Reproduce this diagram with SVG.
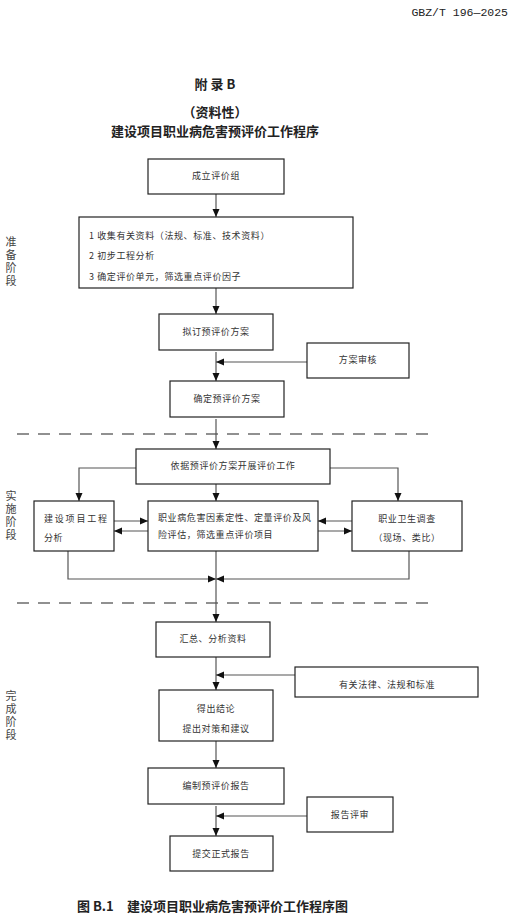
<svg xmlns="http://www.w3.org/2000/svg" width="515" height="917" viewBox="0 0 515 917">
<style>
text{font-family:"Noto Sans CJK SC","Liberation Sans",sans-serif;}
.box{fill:#fff;stroke:#222;stroke-width:1.2;}
.t{font-size:9px;fill:#333;letter-spacing:0.6px;}
.c{text-anchor:middle;}
.side{font-size:11px;fill:#444;writing-mode:vertical-rl;letter-spacing:2px;}
.h{font-size:13px;font-weight:bold;fill:#222;text-anchor:middle;}
.ln{fill:none;stroke:#555;stroke-width:1.2;}
.dash{fill:none;stroke:#222;stroke-width:1.2;stroke-dasharray:12 9;}
</style>
<defs>
<marker id="ah" markerUnits="userSpaceOnUse" markerWidth="8" markerHeight="8" viewBox="0 0 8 8" refX="8" refY="4" orient="auto">
<path d="M0,0.5 L8,4 L0,7.5 Z" fill="#111"/>
</marker>
</defs>
<rect width="515" height="917" fill="#fff"/>
<text x="508" y="16" style="font-family:'Liberation Mono',monospace;font-size:11.5px;fill:#222;text-anchor:end">GBZ/T 196—2025</text>
<text x="215" y="89" class="h">附 录 B</text>
<text x="215" y="117" class="h">（资料性）</text>
<text x="215" y="136" class="h">建设项目职业病危害预评价工作程序</text>

<g id="stage-labels">
<text class="side" x="11" y="236">准备阶段</text>
<text class="side" x="11" y="490">实施阶段</text>
<text class="side" x="11" y="690">完成阶段</text>
</g>
<g id="separators">
<line class="dash" x1="17" y1="434" x2="430" y2="434"/>
<line class="dash" x1="17" y1="603" x2="437" y2="603"/>
</g>

<g id="connectors">
<path class="ln" d="M216,194 V217" marker-end="url(#ah)"/>
<path class="ln" d="M216,288 V314" marker-end="url(#ah)"/>
<path class="ln" d="M216,352 V381" marker-end="url(#ah)"/>
<path class="ln" d="M307,362 H216" marker-end="url(#ah)"/>
<path class="ln" d="M216,419 V449" marker-end="url(#ah)"/>
<path class="ln" d="M136,468 H79 V501" marker-end="url(#ah)"/>
<path class="ln" d="M330,468 H398 V501" marker-end="url(#ah)"/>
<path class="ln" d="M216,484 V501" marker-end="url(#ah)"/>
<path class="ln" d="M114,521 H148" marker-end="url(#ah)"/>
<path class="ln" d="M148,531 H114" marker-end="url(#ah)"/>
<path class="ln" d="M352,521 H318" marker-end="url(#ah)"/>
<path class="ln" d="M318,531 H352" marker-end="url(#ah)"/>
<path class="ln" d="M68,551 V579 H216" marker-end="url(#ah)"/>
<path class="ln" d="M409,551 V579 H216" marker-end="url(#ah)"/>
<path class="ln" d="M216,551 V622" marker-end="url(#ah)"/>
<path class="ln" d="M216,657 V690" marker-end="url(#ah)"/>
<path class="ln" d="M295,675 H216" marker-end="url(#ah)"/>
<path class="ln" d="M216,741 V768" marker-end="url(#ah)"/>
<path class="ln" d="M216,806 V836" marker-end="url(#ah)"/>
<path class="ln" d="M307,816 H216" marker-end="url(#ah)"/>
</g>

<g id="n-setup"><rect class="box" x="148" y="159" width="136" height="35"/><text class="t c" x="216" y="179">成立评价组</text></g>
<g id="n-collect"><rect class="box" x="79" y="217" width="274" height="71"/>
<text class="t" x="89" y="239">1 收集有关资料（法规、标准、技术资料）</text>
<text class="t" x="89" y="259">2 初步工程分析</text>
<text class="t" x="89" y="280">3 确定评价单元，筛选重点评价因子</text></g>
<g id="n-draft"><rect class="box" x="159" y="314" width="114" height="36"/><text class="t c" x="216" y="335">拟订预评价方案</text></g>
<g id="n-review"><rect class="box" x="307" y="343" width="102" height="35"/><text class="t c" x="358" y="363">方案审核</text></g>
<g id="n-confirm"><rect class="box" x="170" y="381" width="114" height="36"/><text class="t c" x="227" y="402">确定预评价方案</text></g>
<g id="n-conduct"><rect class="box" x="136" y="449" width="194" height="35"/><text class="t c" x="233" y="469">依据预评价方案开展评价工作</text></g>
<g id="n-engineering"><rect class="box" x="34" y="501" width="80" height="50"/>
<text class="t" x="44" y="522" style="letter-spacing:1.8px">建设项目工程</text>
<text class="t" x="44" y="541">分析</text></g>
<g id="n-assess"><rect class="box" x="148" y="501" width="170" height="50"/>
<text class="t" x="158" y="521">职业病危害因素定性、定量评价及风</text>
<text class="t" x="158" y="538">险评估，筛选重点评价项目</text></g>
<g id="n-survey"><rect class="box" x="352" y="501" width="110" height="50"/>
<text class="t c" x="407" y="522">职业卫生调查</text>
<text class="t c" x="407" y="541">（现场、类比）</text></g>
<g id="n-summary"><rect class="box" x="156" y="622" width="114" height="35"/><text class="t c" x="213" y="642">汇总、分析资料</text></g>
<g id="n-laws"><rect class="box" x="295" y="667" width="183" height="30"/><text class="t c" x="387" y="688">有关法律、法规和标准</text></g>
<g id="n-conclusion"><rect class="box" x="159" y="690" width="114" height="51"/>
<text class="t c" x="216" y="712">得出结论</text>
<text class="t c" x="216" y="732">提出对策和建议</text></g>
<g id="n-report"><rect class="box" x="148" y="768" width="136" height="36"/><text class="t c" x="216" y="789">编制预评价报告</text></g>
<g id="n-report-review"><rect class="box" x="307" y="797" width="86" height="35"/><text class="t c" x="350" y="818">报告评审</text></g>
<g id="n-submit"><rect class="box" x="170" y="836" width="103" height="35"/><text class="t c" x="221" y="857">提交正式报告</text></g>

<text x="77" y="911" style="font-size:13px;font-weight:bold;fill:#222">图 B.1</text>
<text x="127" y="911" style="font-size:13px;font-weight:bold;fill:#222">建设项目职业病危害预评价工作程序图</text>
</svg>
